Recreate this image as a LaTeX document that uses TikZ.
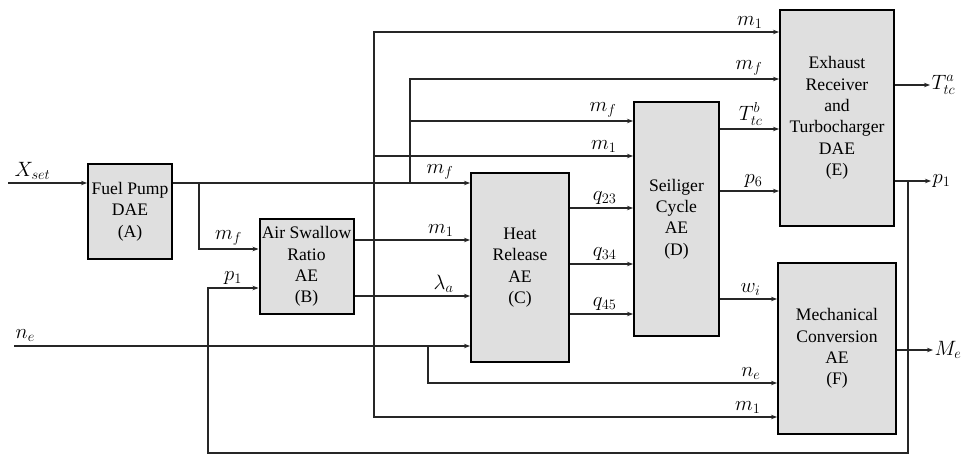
\documentclass[tikz,border=0pt]{standalone}
\usepackage{fontspec}
\setmainfont{Liberation Serif}
\usepackage{amsmath}
\usepackage{tikz}
\usetikzlibrary{positioning, arrows.meta}

\begin{document}
\begin{tikzpicture}[x=1pt, y=-1pt, font=\fontsize{17.6}{21.3}\selectfont,
  every node/.style={inner sep=1.5pt},
  blk/.style={draw=black, line width=2pt, fill=gray!25, align=center, inner sep=1pt},
  wire/.style={->, >={Stealth[length=6pt,width=4.5pt]}, line width=1.1pt, draw=black!85},
  mth/.style={font=\fontsize{20}{24}\selectfont},
  lbl/.style={mth, anchor=south east, inner sep=1pt, xshift=-15pt, yshift=2pt}]
  \useasboundingbox (0,0) rectangle (962,455);
  \node[blk, minimum width=84pt, minimum height=95pt] (fp) at (130,211.5) {Fuel Pump\\DAE\\(A)};
  \node[blk, minimum width=94pt, minimum height=95pt] (asr) at (306.5,266.5) {Air Swallow\\Ratio\\AE\\(B)};
  \node[blk, minimum width=98pt, minimum height=189pt] (hr) at (520,267.5) {Heat\\Release\\AE\\(C)};
  \node[blk, minimum width=85pt, minimum height=234pt] (sc) at (676.5,219) {Seiliger\\Cycle\\AE\\(D)};
  \node[blk, minimum width=114pt, minimum height=216pt] (et) at (837,118) {Exhaust\\Receiver\\and\\Turbocharger\\DAE\\(E)};
  \node[blk, minimum width=118pt, minimum height=171pt] (mc) at (837,348.5) {Mechanical\\Conversion\\AE\\(F)};
  \coordinate (xin) at (8,183);
  \coordinate (nin) at (14,346);
  \coordinate (j1) at (199,183);
  \coordinate (j2) at (374,240);
  \coordinate (j3) at (410,183);
  \coordinate (j4) at (428,346);
  \coordinate (j5) at (908,181);
  \coordinate (j6) at (208,288);
  \node[mth, above right=2pt and 5pt of xin] (xl) {$X_{set}$};
  \node[mth, above right=3pt and 0pt of nin] (nl) {$n_e$};
  \node[mth, anchor=west] (tca) at (930,85) {$T_{tc}^a$};
  \node[mth, anchor=west] (p1o) at (931,181) {$p_1$};
  \node[mth, anchor=west] (me) at (933,350) {$M_e$};
  \draw[wire] (xin) -- (xin -| fp.west);
  \draw[wire] (fp.east |- xin) -- node[lbl, at end] {$m_f$} (xin -| hr.west);
  \draw[wire] (j1) |- node[lbl, at end] {$m_f$} (asr.west |- 0,249);
  \draw[wire] (j5) -- (j5 |- 0,453) -| (j6) -- node[lbl, at end] {$p_1$} (j6 -| asr.west);
  \draw[wire] (asr.east |- j2) -- node[lbl, at end] {$m_1$} (j2 -| hr.west);
  \draw[wire] (asr.east |- 0,296) -- node[lbl, at end] {$\lambda_a$} (hr.west |- 0,296);
  \draw[wire] (nin) -- (nin -| hr.west);
  \draw[wire] (j4) |- node[lbl, at end] {$n_e$} (mc.west |- 0,383);
  \draw[wire] (j2) |- node[lbl, at end] {$m_1$} (et.west |- 0,32);
  \draw[wire] (j2) |- node[lbl, at end] {$m_1$} (mc.west |- 0,417);
  \draw[wire] (j2 |- 0,156) -- node[lbl, at end] {$m_1$} (sc.west |- 0,156);
  \draw[wire] (j3) |- node[lbl, at end] {$m_f$} (et.west |- 0,79);
  \draw[wire] (j3 |- 0,121) -- node[lbl, at end] {$m_f$} (sc.west |- 0,121);
  \draw[wire] (hr.east |- 0,208) -- node[lbl, at end] {$q_{23}$} (sc.west |- 0,208);
  \draw[wire] (hr.east |- 0,264) -- node[lbl, at end] {$q_{34}$} (sc.west |- 0,264);
  \draw[wire] (hr.east |- 0,314) -- node[lbl, at end] {$q_{45}$} (sc.west |- 0,314);
  \draw[wire] (sc.east |- 0,129) -- node[lbl, at end] {$T_{tc}^b$} (et.west |- 0,129);
  \draw[wire] (sc.east |- 0,191) -- node[lbl, at end] {$p_6$} (et.west |- 0,191);
  \draw[wire] (sc.east |- 0,299) -- node[lbl, at end] {$w_i$} (mc.west |- 0,299);
  \draw[wire] (et.east |- tca) -- (tca);
  \draw[wire] (et.east |- p1o) -- (p1o);
  \draw[wire] (mc.east |- me) -- (me);
\end{tikzpicture}
\end{document}
